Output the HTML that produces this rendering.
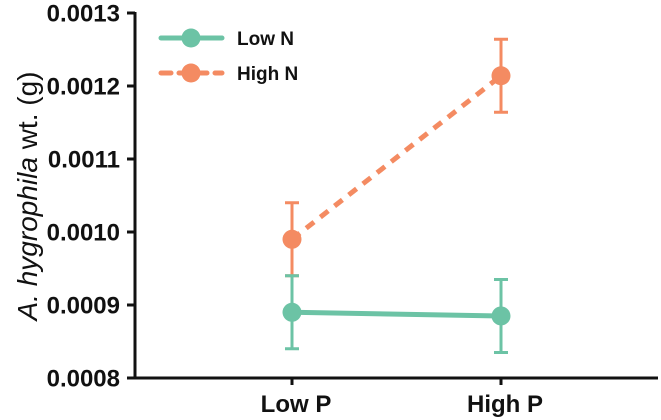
<!DOCTYPE html>
<html><head><meta charset="utf-8"><style>
body{margin:0;background:#fff;}
svg{display:block;font-family:"Liberation Sans",Arial,sans-serif;}
</style></head><body>
<svg id="chart" width="661" height="420">
<text transform="translate(37,196) rotate(-90)" text-anchor="middle" font-size="28" fill="#111"><tspan font-style="italic">A. hygrophila</tspan> wt. (g)</text>
<g id="axes"></g>
<g id="series"></g>
<g>
<g>
<line x1="161" y1="38" x2="222" y2="38" stroke="#6cc3a5" stroke-width="5" stroke-linecap="round"/>
<circle cx="191" cy="38" r="9.5" fill="#6cc3a5"/>
<text x="237" y="45" font-size="19" font-weight="bold" fill="#111">Low N</text></g>
<g>
<line x1="161" y1="73" x2="222" y2="73" stroke="#f48b62" stroke-width="5" stroke-linecap="round" stroke-dasharray="10,8"/>
<circle cx="191" cy="73" r="9.5" fill="#f48b62"/>
<text x="237" y="80" font-size="19" font-weight="bold" fill="#111">High N</text></g>
</g>
</svg>
<script>
const categories=["Low P","High P"];
const lowN=[0.00089,0.000885];
const lowNErr=[0.00005,0.00005];
const highN=[0.00099,0.001214];
const highNErr=[0.00005,0.00005];
const yTicks=[0.0008,0.0009,0.0010,0.0011,0.0012,0.0013];
const yTickLabels=["0.0008","0.0009","0.0010","0.0011","0.0012","0.0013"];
const NS="http://www.w3.org/2000/svg";
const y0=378,y1=13,vmin=0.0008,vmax=0.0013;
function yS(v){return y0-(v-vmin)/(vmax-vmin)*(y0-y1);}
function xS(i){return 292+i*209;}
function mk(tag,attrs,parent){const e=document.createElementNS(NS,tag);for(const k in attrs)e.setAttribute(k,attrs[k]);parent.appendChild(e);return e;}
const ax=document.getElementById('axes');
let l=mk('line',{x1:135,y1:y1-1,x2:135,y2:y0+1.5,stroke:'#111','stroke-width':3},ax);


l=mk('line',{x1:133.5,y1:y0,x2:658,y2:y0,stroke:'#111','stroke-width':3},ax);


yTicks.forEach((t,i)=>{
 const y=yS(t);
 const tk=mk('line',{x1:127,y1:y,x2:135,y2:y,stroke:'#111','stroke-width':3},ax);
 
 
 const tx=mk('text',{x:120,y:y+8.5,'text-anchor':'end','font-size':24,'font-weight':'bold',fill:'#111'},ax);
 tx.textContent=yTickLabels[i];
 
 
});
categories.forEach((c,i)=>{
 const x=xS(i);
 const tk=mk('line',{x1:x,y1:y0,x2:x,y2:y0+7,stroke:'#111','stroke-width':3},ax);
 
 
 const tx=mk('text',{x:x+4,y:412,'text-anchor':'middle','font-size':24,'font-weight':'bold',fill:'#111'},ax);
 tx.textContent=c;
 
 
});
const sg=document.getElementById('series');
function series(vals,errs,color,dash,name){
 const g=mk('g',{},sg);
 
 
 vals.forEach((v,i)=>{
  const x=xS(i);
  const e=mk('path',{d:`M${x},${yS(v+errs[i])}V${yS(v-errs[i])}M${x-7},${yS(v+errs[i])}H${x+7}M${x-7},${yS(v-errs[i])}H${x+7}`,stroke:color,'stroke-width':3,fill:'none'},g);
  
  
 });
 const ln=mk('line',{x1:xS(0),y1:yS(vals[0]),x2:xS(1),y2:yS(vals[1]),stroke:color,'stroke-width':5,'stroke-dasharray':dash},g);
 
 
 vals.forEach((v,i)=>{
  const p=mk('circle',{cx:xS(i),cy:yS(v),r:9.5,fill:color},g);
  
  
 });
}
series(highN,highNErr,'#f48b62','10,8','series-high-n');
series(lowN,lowNErr,'#6cc3a5','none','series-low-n');
</script>
</body></html>
